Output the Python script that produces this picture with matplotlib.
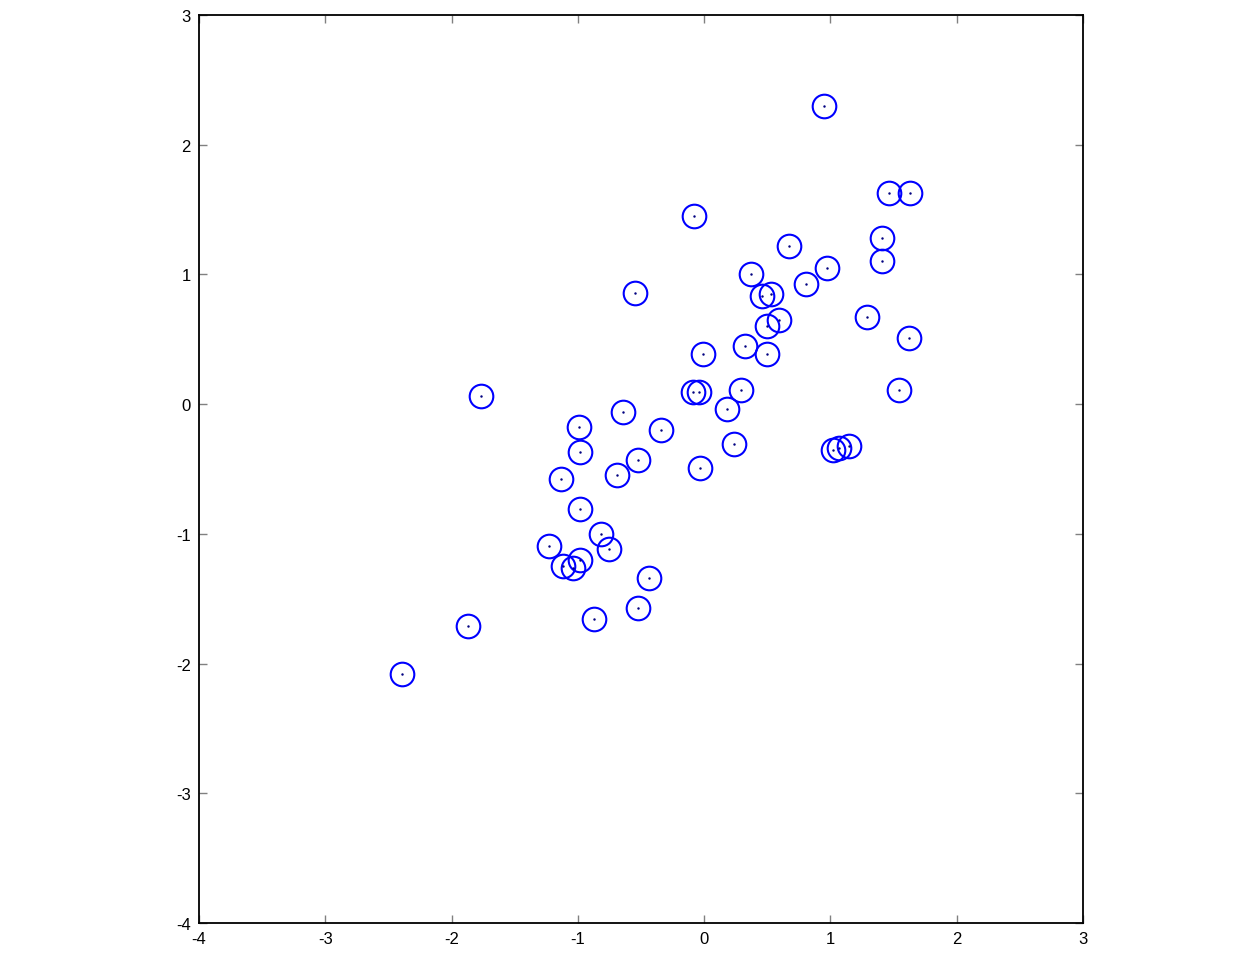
import matplotlib
matplotlib.use("Agg")
import matplotlib.pyplot as plt

x = [0.95, 1.46, 1.63, -0.08, 1.41, 0.67, 1.41, 0.37, 0.97, 0.81,
     -0.55, 0.46, 0.53, 0.59, 0.50, 1.29, 1.62, 0.32, -0.01, 0.50,
     -1.77, -0.09, -0.04, 0.29, 1.54, 0.18, -0.64, -0.34, -0.99, 0.24,
     1.15, 1.07, 1.02, -0.98, -0.52, -0.03, -0.69, -1.13, -0.98, -0.82,
     -1.23, -0.75, -0.98, -1.12, -1.04, -0.44, -0.52, -0.87, -1.87, -2.39]
y = [2.30, 1.63, 1.63, 1.45, 1.28, 1.22, 1.10, 1.00, 1.05, 0.93,
     0.86, 0.83, 0.85, 0.65, 0.60, 0.67, 0.51, 0.45, 0.39, 0.39,
     0.06, 0.09, 0.09, 0.11, 0.11, -0.04, -0.06, -0.20, -0.18, -0.31,
     -0.32, -0.34, -0.35, -0.37, -0.43, -0.49, -0.55, -0.58, -0.81, -1.00,
     -1.09, -1.12, -1.20, -1.25, -1.26, -1.34, -1.57, -1.66, -1.71, -2.08]

xticks = [-4, -3, -2, -1, 0, 1, 2, 3]
yticks = [-4, -3, -2, -1, 0, 1, 2, 3]

plt.rcParams['font.family'] = ['Liberation Sans', 'DejaVu Sans']
fig = plt.figure(figsize=(12.52, 9.54), dpi=100)
ax = fig.add_axes([199/1252, 30/954, 884/1252, 908/954])

ax.plot(x, y, 'o', linestyle='none', markersize=17, markerfacecolor='none',
        markeredgecolor='#0000ff', markeredgewidth=1.5)
ax.plot(x, y, '.', linestyle='none', markersize=1.5, color='#000080')

ax.set_xlim(-4, 3)
ax.set_ylim(-4, 3)
ax.set_xticks(xticks)
ax.set_yticks(yticks)
ax.set_xticklabels([str(t) for t in xticks])
ax.set_yticklabels([str(t) for t in yticks])
ax.tick_params(direction='in', length=5.8, width=1, color='#808080',
               top=True, right=True, labelsize=12, labelcolor='black')
ax.tick_params(axis='x', pad=6)
ax.tick_params(axis='y', pad=6)
for s in ax.spines.values():
    s.set_linewidth(1.3)
    s.set_color('black')

fig.savefig('out.png', dpi=100)
